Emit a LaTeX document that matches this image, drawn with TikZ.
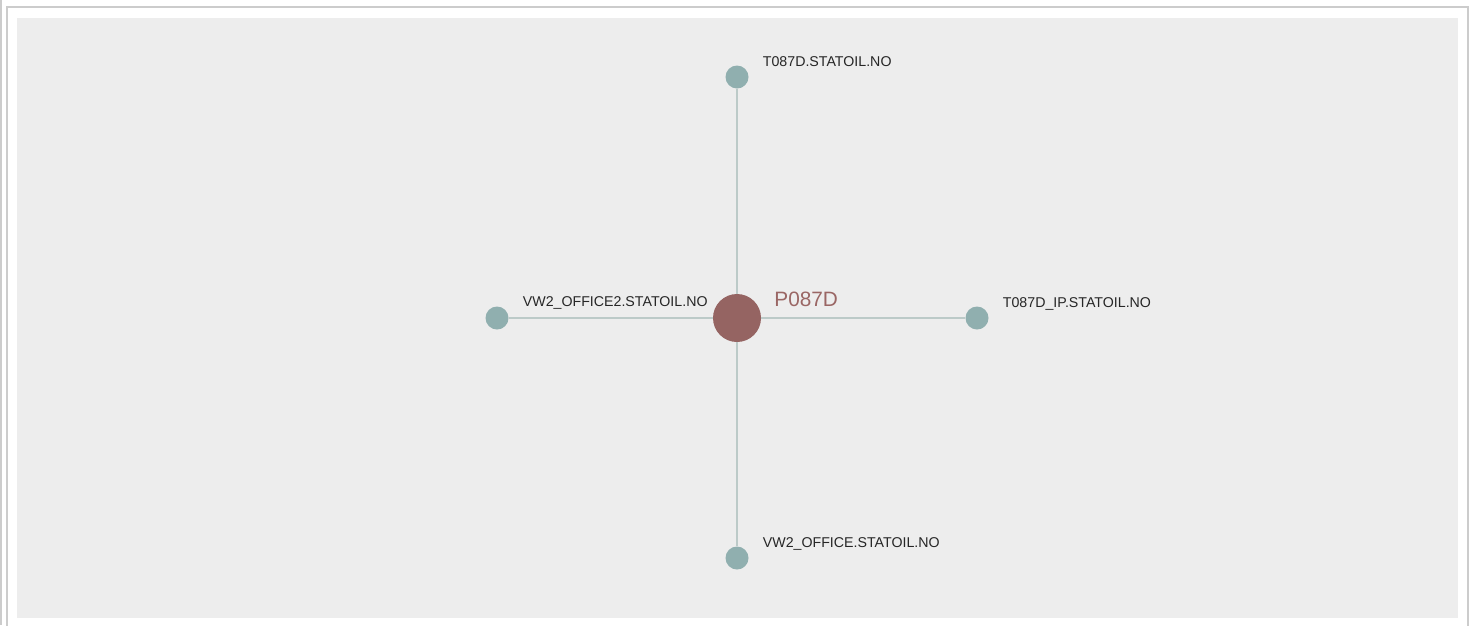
\documentclass[tikz,border=0pt]{standalone}
\usepackage{fontspec}
\setmainfont{Liberation Sans}
\usepackage{tikz}
\usetikzlibrary{positioning}
\definecolor{hostred}{HTML}{956462}
\definecolor{hostlbl}{HTML}{9A6664}
\definecolor{peerteal}{HTML}{90AFAF}
\definecolor{linkgray}{HTML}{BCCAC8}
\definecolor{panelgray}{HTML}{EDEDED}
\definecolor{framegray}{HTML}{CCCCCC}

\begin{document}
\begin{tikzpicture}[
    x=1pt, y=-1pt,
    host/.style={circle, fill=hostred, minimum size=48pt, inner sep=0pt},
    peer/.style={circle, fill=peerteal, minimum size=23pt, inner sep=0pt},
    link/.style={linkgray, line width=2pt},
    lbl/.style={anchor=west, inner sep=0pt, text height=10pt, text depth=0pt,
        text=black!85, font=\fontsize{14.2}{16}\selectfont},
    hostlbl/.style={anchor=west, inner sep=0pt, text height=15pt, text depth=0pt,
        text=hostlbl, font=\fontsize{20.8}{24}\selectfont}
]

% panel and frame
\useasboundingbox (0,0) rectangle (1472,625);
\fill[white] (0,0) rectangle (1472,625);
\fill[framegray] (0,0) rectangle (1.5,625);
\draw[framegray, line width=2pt] (7,626) -- (7,7) -- (1468,7) -- (1468,626);
\fill[panelgray] (17,18) rectangle (1458,618);

% nodes
\node[host] (p087d) at (737,318) {};
\node[peer] (t087d) at (737,77) {};
\node[peer] (office2) at (497,318) {};
\node[peer] (t087dip) at (977,318) {};
\node[peer] (office) at (737,558) {};

% links
\draw[link] (p087d) -- (t087d);
\draw[link] (p087d) -- (office2);
\draw[link] (p087d) -- (t087dip);
\draw[link] (p087d) -- (office);

% labels
\node[hostlbl] (p087dlbl) at ([xshift=13,yshift=19]p087d.east) {P087D};
\node[lbl] (t087dlbl) at ([xshift=14,yshift=16]t087d.east) {T087D.STATOIL.NO};
\node[lbl] (office2lbl) at ([xshift=14,yshift=17]office2.east) {VW2\_OFFICE2.STATOIL.NO};
\node[lbl] (t087diplbl) at ([xshift=14,yshift=16]t087dip.east) {T087D\_IP.STATOIL.NO};
\node[lbl] (officelbl) at ([xshift=14,yshift=16]office.east) {VW2\_OFFICE.STATOIL.NO};

\end{tikzpicture}
\end{document}
